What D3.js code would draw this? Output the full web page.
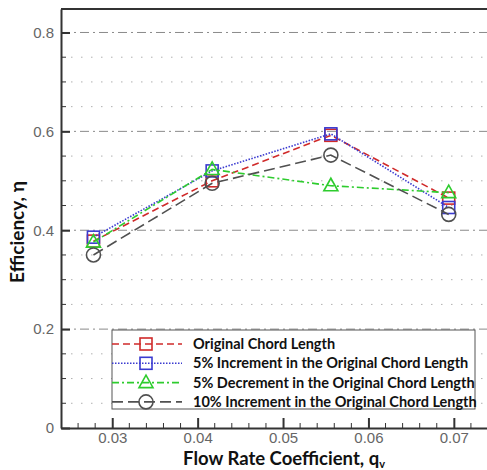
<!DOCTYPE html>
<html>
<head>
<meta charset="utf-8">
<script src="https://cdn.jsdelivr.net/npm/d3@7"></script>
<style>
  body { margin: 0; background: #fff; }
  svg { display: block; }
</style>
</head>
<body>
<svg id="chart" width="487" height="470"></svg>
<script>
// values
var flowRate = [0.0278, 0.0417, 0.0556, 0.0694];
var originalChord = [0.378, 0.500, 0.592, 0.465];
var increment5 = [0.386, 0.520, 0.595, 0.446];
var decrement5 = [0.376, 0.523, 0.490, 0.476];
var increment10 = [0.350, 0.495, 0.552, 0.432];

var seriesNames = [
    'Original Chord Length',
    '5% Increment in the Original Chord Length',
    '5% Decrement in the Original Chord Length',
    '10% Increment in the Original Chord Length'
];
var xTicks = [0.03, 0.04, 0.05, 0.06, 0.07];
var yTicks = [0, 0.2, 0.4, 0.6, 0.8];

var styles = [
    { color: '#d02a2a', dash: '7,4', marker: 'square' },
    { color: '#3a3ad0', dash: '1.5,1.5', marker: 'square' },
    { color: '#2ecc2e', dash: '7,3,2,3', marker: 'triangle' },
    { color: '#505050', dash: '11,5', marker: 'circle' }
];

(function() {
    var series = [originalChord, increment5, decrement5, increment10].map(function(vals, i) {
        return {
            name: seriesNames[i],
            style: styles[i],
            points: vals.map(function(v, j) { return { x: flowRate[j], y: v }; })
        };
    });

    var svg = d3.select('#chart');
    var plotLeft = 61, plotRight = 488, plotTop = 9, plotBottom = 428;

    var x = d3.scaleLinear().domain([0.024, 0.074]).range([plotLeft, plotRight]);
    var y = d3.scaleLinear().domain([0, 0.8475]).range([plotBottom, plotTop]);

    // minor levels between the labelled ticks
    var minorY = d3.range(1, 17).map(function(k) { return k * 0.05; })
        .filter(function(v, i) { return (i + 1) % 4 !== 0; });
    var minorX = d3.range(1, 25).map(function(k) { return 0.024 + k * 0.002; })
        .filter(function(v) {
            return xTicks.every(function(t) { return Math.abs(t - v) > 0.0005; });
        });

    // grid
    svg.append('g').selectAll('line').data(minorY).enter().append('line')
        .attr('x1', plotLeft).attr('x2', plotRight)
        .attr('y1', function(d) { return y(d); }).attr('y2', function(d) { return y(d); })
        .attr('stroke', '#b0b0b0').attr('stroke-width', 1)
        .attr('stroke-dasharray', '1.5,8.5');

    svg.append('g').selectAll('line').data(yTicks.slice(1)).enter().append('line')
        .attr('x1', plotLeft).attr('x2', plotRight)
        .attr('y1', function(d) { return y(d); }).attr('y2', function(d) { return y(d); })
        .attr('stroke', '#8a8a8a').attr('stroke-width', 1)
        .attr('stroke-dasharray', '9,4,2,4');

    // top border of the frame
    svg.append('line').attr('x1', plotLeft).attr('x2', plotRight)
        .attr('y1', plotTop).attr('y2', plotTop)
        .attr('stroke', '#333').attr('stroke-width', 2);

    // axes
    var xAxis = d3.axisBottom(x).tickValues(xTicks).tickFormat(d3.format('.2f'))
        .tickSizeInner(-10).tickSizeOuter(0).tickPadding(4);
    var yAxis = d3.axisLeft(y).tickValues(yTicks)
        .tickFormat(function(d) { return d === 0 ? '0' : d.toFixed(1); })
        .tickSizeInner(-9).tickSizeOuter(0).tickPadding(7);

    svg.append('g').selectAll('line').data(minorX).enter().append('line')
        .attr('x1', function(d) { return x(d); }).attr('x2', function(d) { return x(d); })
        .attr('y1', plotBottom).attr('y2', plotBottom - 5)
        .attr('stroke', '#333').attr('stroke-width', 1);
    svg.append('g').selectAll('line').data(minorY).enter().append('line')
        .attr('x1', plotLeft).attr('x2', plotLeft + 5)
        .attr('y1', function(d) { return y(d); }).attr('y2', function(d) { return y(d); })
        .attr('stroke', '#333').attr('stroke-width', 1);

    var gx = svg.append('g').attr('transform', 'translate(0,' + plotBottom + ')').call(xAxis);
    var gy = svg.append('g').attr('transform', 'translate(' + plotLeft + ',0)').call(yAxis);
    [gx, gy].forEach(function(g) {
        g.select('.domain').attr('stroke', '#333').attr('stroke-width', 2);
        g.selectAll('.tick line').attr('stroke', '#333').attr('stroke-width', 2);
        g.selectAll('.tick text').attr('fill', '#666')
            .style('font-family', '"Liberation Sans", Arial, sans-serif').style('font-size', '15px');
    });

    // series lines and markers
    var line = d3.line().x(function(d) { return x(d.x); }).y(function(d) { return y(d.y); });

    function drawMarker(g, type, color) {
        if (type === 'square') {
            g.append('rect').attr('x', -6).attr('y', -6).attr('width', 12).attr('height', 12);
        } else if (type === 'triangle') {
            g.append('path').attr('d', 'M0,-7.5L7,5L-7,5Z');
        } else {
            g.append('circle').attr('r', 7);
        }
        g.selectAll('*').attr('fill', 'none').attr('stroke', color).attr('stroke-width', 1.6);
    }

    series.forEach(function(s) {
        svg.append('path').datum(s.points).attr('d', line)
            .attr('fill', 'none').attr('stroke', s.style.color)
            .attr('stroke-width', 1.6).attr('stroke-dasharray', s.style.dash);
        svg.append('g').selectAll('g').data(s.points).enter().append('g')
            .attr('transform', function(d) { return 'translate(' + x(d.x) + ',' + y(d.y) + ')'; })
            .each(function() { drawMarker(d3.select(this), s.style.marker, s.style.color); });
    });

    // legend
    var legend = svg.append('g').attr('transform', 'translate(112,330)');
    legend.append('rect').attr('width', 363).attr('height', 79)
        .attr('fill', '#fff').attr('stroke', '#555').attr('stroke-width', 1);
    var rows = legend.selectAll('g.row').data(series).enter().append('g')
        .attr('class', 'row')
        .attr('transform', function(d, i) { return 'translate(0,' + (14 + i * 19.3) + ')'; });
    rows.append('line').attr('x1', 0).attr('x2', 70)
        .attr('stroke', function(d) { return d.style.color; })
        .attr('stroke-width', 1.6)
        .attr('stroke-dasharray', function(d) { return d.style.dash; });
    rows.append('g').attr('transform', 'translate(34,0)')
        .each(function(d) { drawMarker(d3.select(this), d.style.marker, d.style.color); });
    rows.append('text').attr('x', 81).attr('dy', '0.35em')
        .text(function(d) { return d.name; })
        .style('font-family', 'Lato, "Open Sans", sans-serif')
        .style('font-weight', 'bold').style('font-size', '14.5px').attr('fill', '#111');

    // axis titles
    svg.append('text').attr('x', 284).attr('y', 465).attr('text-anchor', 'middle')
        .style('font-family', 'Lato, "Open Sans", sans-serif').style('font-weight', 'bold')
        .style('font-size', '18.5px').attr('fill', '#111')
        .text('Flow Rate Coefficient, q')
        .append('tspan').attr('dy', 3).style('font-size', '11px').text('v');
    svg.append('text').attr('transform', 'translate(24,232) rotate(-90)').attr('text-anchor', 'middle')
        .style('font-family', 'Lato, "Open Sans", sans-serif').style('font-weight', 'bold')
        .style('font-size', '19px').attr('fill', '#111')
        .text('Efficiency, η');
})();
</script>
</body>
</html>
